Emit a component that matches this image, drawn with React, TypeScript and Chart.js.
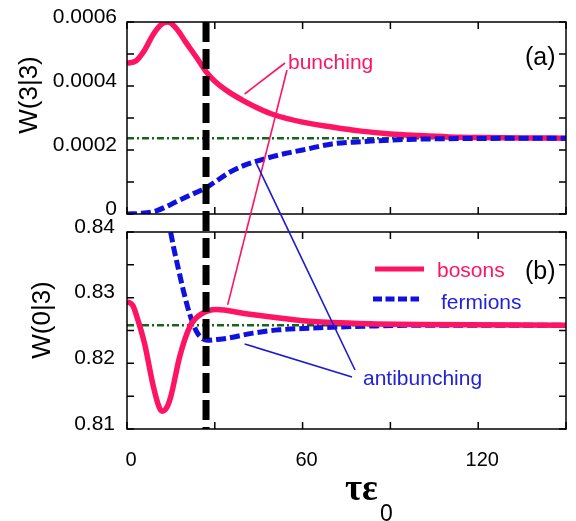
import React, { useEffect, useRef, useState } from 'react';
import { Chart, registerables } from 'chart.js';

Chart.register(...registerables);

// ---------------- data ----------------
// panel (a): W(3|3)
const topBosonT = [0, 3, 6, 9, 12, 14, 17, 20, 24, 27, 30, 35, 40, 45, 50, 60, 70, 80, 90, 100, 110, 120, 135, 150];
const topBosonW = [0.000471, 0.000478, 0.000512, 0.000562, 0.000594, 0.0006, 0.000578, 0.000538, 0.000486, 0.000445, 0.000415, 0.00038, 0.000353, 0.00033, 0.000311, 0.000287, 0.000272, 0.000259, 0.00025, 0.000245, 0.000241, 0.000239, 0.0002375, 0.000237];
const topFermionT = [0, 5, 10, 15, 20, 24, 27, 30, 35, 40, 45, 50, 55, 60, 70, 80, 90, 100, 120, 150];
const topFermionW = [0, 0.000002, 0.00001, 0.00003, 0.000052, 0.000069, 0.000082, 0.0001, 0.00013, 0.000152, 0.000167, 0.00018, 0.000191, 0.0002, 0.000219, 0.000226, 0.000231, 0.000234, 0.000236, 0.000237];
const topAsymptote = 0.000237;

// panel (b): W(0|3)
const botBosonT = [0, 2, 4, 6, 9, 11, 12, 13.5, 15, 18, 21.5, 25, 30.6, 40, 52, 60, 70, 85, 100, 150];
const botBosonW = [0.8294, 0.8288, 0.8262, 0.823, 0.8165, 0.8133, 0.8127, 0.8132, 0.815, 0.821, 0.8256, 0.8274, 0.8282, 0.8276, 0.8269, 0.8265, 0.8262, 0.826, 0.8259, 0.8258];
const botFermionT = [12, 14.9, 16, 17.5, 19.2, 21.5, 23.8, 26, 27.5, 30, 34, 43, 52, 60, 70, 85, 100, 150];
const botFermionW = [0.8462, 0.84, 0.8375, 0.8345, 0.8312, 0.8274, 0.8248, 0.8237, 0.8235, 0.8236, 0.8238, 0.8246, 0.8251, 0.8253, 0.8255, 0.8257, 0.8258, 0.8258];
const botAsymptote = 0.8258;

const asymT = [0, 150];
const markerT = 27;

// ticks
const xLabelVals = [0, 60, 120];
const xLabelText = ['0', '60', '120'];
const xMinorVals = [0, 30, 60, 90, 120, 150];
const topLabelVals = [0, 0.0002, 0.0004, 0.0006];
const topLabelText = ['0', '0.0002', '0.0004', '0.0006'];
const topMinorVals = [0, 0.0001, 0.0002, 0.0003, 0.0004, 0.0005, 0.0006];
const botLabelVals = [0.81, 0.82, 0.83, 0.84];
const botLabelText = ['0.81', '0.82', '0.83', '0.84'];
const botMinorVals = [0.81, 0.815, 0.82, 0.825, 0.83, 0.835, 0.84];

// annotation anchors (data coordinates of the panels)
const bunchAnchorTop = [40.2, 0.000375];
const bunchAnchorBot = [34.4, 0.8289];
const antiAnchorTop = [44.2, 0.000158];
const antiAnchorBot = [40.2, 0.82295];

// ---------------- styles ----------------
const PINK = '#ff1464';
const BLUE = '#1010e0';
const GREEN = '#16661a';
const SANS = "'Liberation Sans', Arial, Helvetica, sans-serif";
const W = 576;
const H = 521;
const TOP_H = 222;
const BOT_OFF = 200;

const pts = (t: number[], w: number[]) => t.map((x, i) => ({ x, y: w[i] }));

function framePlugin(xTicks: number[], yTicks: number[]) {
  return {
    id: 'frameTicks',
    afterDraw(chart: any) {
      const { ctx, chartArea: a, scales } = chart;
      ctx.save();
      ctx.strokeStyle = '#000';
      ctx.lineWidth = 1.5;
      ctx.strokeRect(a.left, a.top, a.right - a.left, a.bottom - a.top);
      ctx.beginPath();
      for (const v of xTicks) {
        const px = scales.x.getPixelForValue(v);
        ctx.moveTo(px, a.top);
        ctx.lineTo(px, a.top + 7);
        ctx.moveTo(px, a.bottom);
        ctx.lineTo(px, a.bottom - 7);
      }
      for (const v of yTicks) {
        const py = scales.y.getPixelForValue(v);
        ctx.moveTo(a.left, py);
        ctx.lineTo(a.left + 7, py);
        ctx.moveTo(a.right, py);
        ctx.lineTo(a.right - 7, py);
      }
      ctx.stroke();
      ctx.restore();
    },
  };
}

function makeOptions(o: {
  yMin: number; yMax: number; yVals: number[]; yText: string[];
  padTop: number; xHeight: number; showX: boolean; yPad: number;
}) {
  return {
    responsive: false,
    animation: false as const,
    devicePixelRatio: 1,
    events: [],
    layout: { padding: { top: o.padTop, right: 10, left: 0, bottom: 0 } },
    plugins: { legend: { display: false }, tooltip: { enabled: false } },
    elements: { point: { radius: 0 } },
    scales: {
      x: {
        type: 'linear' as const,
        min: 0,
        max: 150,
        afterBuildTicks: (s: any) => { s.ticks = xLabelVals.map((v) => ({ value: v })); },
        afterFit: (s: any) => { s.height = o.xHeight; s.paddingLeft = 0; s.paddingRight = 0; s.paddingTop = 0; s.paddingBottom = 0; },
        grid: { display: false, drawTicks: false },
        border: { display: false },
        ticks: {
          display: o.showX,
          color: '#000',
          font: { family: SANS, size: 20 },
          padding: 19,
          labelOffset: 4,
          maxRotation: 0,
          autoSkip: false,
          callback: (_v: any, i: number) => xLabelText[i],
        },
      },
      y: {
        type: 'linear' as const,
        min: o.yMin,
        max: o.yMax,
        afterBuildTicks: (s: any) => { s.ticks = o.yVals.map((v) => ({ value: v })); },
        afterFit: (s: any) => { s.width = 127; s.paddingLeft = 0; s.paddingRight = 0; s.paddingTop = 0; s.paddingBottom = 0; },
        grid: { display: false, drawTicks: false },
        border: { display: false },
        ticks: {
          color: '#000',
          font: { family: SANS, size: 21 },
          padding: o.yPad,
          labelOffset: -5,
          autoSkip: false,
          callback: (_v: any, i: number) => o.yText[i],
        },
      },
    },
  };
}

const lineCommon = { pointRadius: 0, fill: false, cubicInterpolationMode: 'monotone' as const };

export default function App() {
  const topRef = useRef<HTMLCanvasElement>(null);
  const botRef = useRef<HTMLCanvasElement>(null);
  const [geo, setGeo] = useState<any>(null);

  useEffect(() => {
    const top = new Chart(topRef.current as HTMLCanvasElement, {
      type: 'line',
      data: {
        datasets: [
          { data: pts(topFermionT, topFermionW), borderColor: BLUE, borderWidth: 5, borderDash: [10, 4], ...lineCommon },
          { data: pts(topBosonT, topBosonW), borderColor: PINK, borderWidth: 5.5, ...lineCommon },
          { data: pts(asymT, [topAsymptote, topAsymptote]), borderColor: GREEN, borderWidth: 2.5, borderDash: [7, 3, 2, 3], ...lineCommon },
        ],
      },
      options: makeOptions({ yMin: 0, yMax: 0.0006, yVals: topLabelVals, yText: topLabelText, padTop: 22, xHeight: 8, showX: false, yPad: 10 }) as any,
      plugins: [framePlugin(xMinorVals, topMinorVals)],
    });
    const bot = new Chart(botRef.current as HTMLCanvasElement, {
      type: 'line',
      data: {
        datasets: [
          { data: pts(botBosonT, botBosonW), borderColor: PINK, borderWidth: 5.5, ...lineCommon },
          { data: pts(botFermionT, botFermionW), borderColor: BLUE, borderWidth: 5, borderDash: [10, 4], ...lineCommon },
          { data: pts(asymT, [botAsymptote, botAsymptote]), borderColor: GREEN, borderWidth: 2.5, borderDash: [7, 3, 2, 3], ...lineCommon },
        ],
      },
      options: makeOptions({ yMin: 0.81, yMax: 0.84, yVals: botLabelVals, yText: botLabelText, padTop: 32, xHeight: 92, showX: true, yPad: 12 }) as any,
      plugins: [framePlugin(xMinorVals, botMinorVals)],
    });

    const tp = (p: number[]) => [top.scales.x.getPixelForValue(p[0]), top.scales.y.getPixelForValue(p[1])];
    const bp = (p: number[]) => [bot.scales.x.getPixelForValue(p[0]), BOT_OFF + bot.scales.y.getPixelForValue(p[1])];
    setGeo({
      vx: bot.scales.x.getPixelForValue(markerT),
      vTop: top.chartArea.top,
      vBot: BOT_OFF + bot.chartArea.bottom,
      bTop: tp(bunchAnchorTop),
      bBot: bp(bunchAnchorBot),
      aTop: tp(antiAnchorTop),
      aBot: bp(antiAnchorBot),
    });
    return () => {
      top.destroy();
      bot.destroy();
    };
  }, []);

  return (
    <div style={{ position: 'absolute', left: 0, top: 0, width: W, height: H, background: '#fff', overflow: 'hidden' }}>
      <canvas ref={topRef} width={W} height={TOP_H} style={{ position: 'absolute', left: 0, top: 0, width: W, height: TOP_H }} />
      <canvas ref={botRef} width={W} height={H - BOT_OFF} style={{ position: 'absolute', left: 0, top: BOT_OFF, width: W, height: H - BOT_OFF }} />
      <svg width={W} height={H} style={{ position: 'absolute', left: 0, top: 0, pointerEvents: 'none' }} fontFamily={SANS}>
        {geo && (
          <g>
            <line x1={geo.vx} y1={geo.vTop} x2={geo.vx} y2={geo.vBot} stroke="#000" strokeWidth={7} strokeDasharray="20 7" />
            <line x1={285} y1={63} x2={geo.bTop[0]} y2={geo.bTop[1]} stroke={PINK} strokeWidth={1.6} />
            <line x1={287} y1={70} x2={geo.bBot[0]} y2={geo.bBot[1]} stroke={PINK} strokeWidth={1.6} />
            <line x1={355} y1={370} x2={geo.aTop[0]} y2={geo.aTop[1]} stroke="#1a1ad0" strokeWidth={1.6} />
            <line x1={352} y1={377} x2={geo.aBot[0]} y2={geo.aBot[1]} stroke="#1a1ad0" strokeWidth={1.6} />
          </g>
        )}
        <text transform="translate(27.5,95) rotate(-90)" textAnchor="middle" dominantBaseline="central" fontSize={26} fill="#000">W(3|3)</text>
        <text transform="translate(41,320) rotate(-90)" textAnchor="middle" dominantBaseline="central" fontSize={26} fill="#000">W(0|3)</text>
        <text x={525} y={65} fontSize={25} fill="#000">(a)</text>
        <text x={525} y={279} fontSize={25} fill="#000">(b)</text>
        <text x={288} y={69} fontSize={21} fill={PINK}>bunching</text>
        <text x={363} y={385} fontSize={21} fill="#2020dd">antibunching</text>
        <line x1={375} y1={269} x2={424} y2={269} stroke={PINK} strokeWidth={5} />
        <text x={437} y={277} fontSize={21} fill={PINK}>bosons</text>
        <line x1={373} y1={299} x2={419} y2={299} stroke={BLUE} strokeWidth={5} strokeDasharray="9 3.5" />
        <text x={441} y={309} fontSize={21} fill="#2020dd">fermions</text>
        <text x={345} y={500} fontSize={37} fontWeight="bold" fontFamily="'Liberation Serif', 'DejaVu Serif', serif" fill="#000">τε</text>
        <text x={380} y={521} fontSize={23} fill="#000">0</text>
      </svg>
    </div>
  );
}
